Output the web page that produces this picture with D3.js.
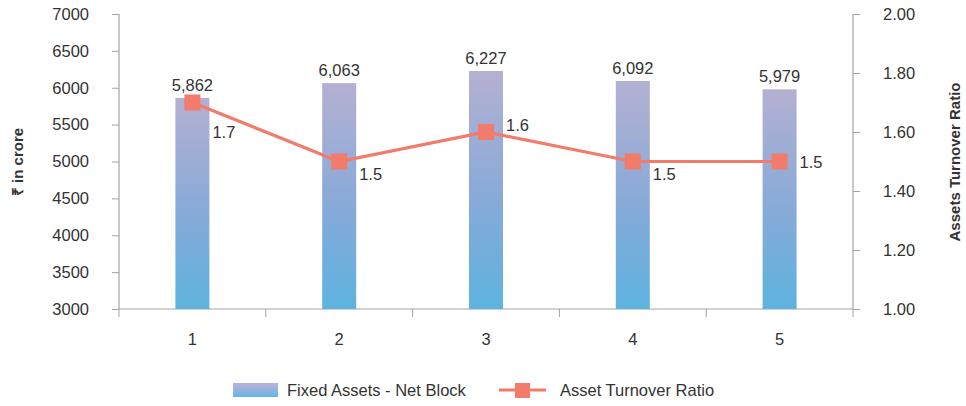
<!DOCTYPE html>
<html>
<head>
<meta charset="utf-8">
<script src="https://cdn.jsdelivr.net/npm/d3@7"></script>
<style>
	body { margin: 0; background: #fff; }
	svg text { font-family: "Liberation Sans", Arial, sans-serif; fill: #333; }
</style>
</head>
<body>
<svg id="chart" width="966" height="406"></svg>
<script>
const categories = ["1", "2", "3", "4", "5"];
const netBlock = [5862, 6063, 6227, 6092, 5979];
const turnover = [1.7, 1.5, 1.6, 1.5, 1.5];
const leftTicks = [3000, 3500, 4000, 4500, 5000, 5500, 6000, 6500, 7000];
const rightTicks = [1.00, 1.20, 1.40, 1.60, 1.80, 2.00];
// vertical nudge of each ratio label, as placed in the original
const ratioLabelDy = [35, 18, -1, 18, 6];

const svg = d3.select("#chart");
const plotLeft = 119, plotRight = 853, plotTop = 14, plotBottom = 309;
const axisColor = "#a3a3a3";
const lineColor = "#f27b6c";
const fontSize = "16.5px";

const x = d3.scaleBand().domain(categories).range([plotLeft, plotRight]);
const yL = d3.scaleLinear().domain([3000, 7000]).range([plotBottom, plotTop]);
const yR = d3.scaleLinear().domain([1, 2]).range([plotBottom, plotTop]);
const cx = i => x(categories[i]) + x.bandwidth() / 2;

// gradient for bars
const defs = svg.append("defs");
const grad = defs.append("linearGradient")
	.attr("id", "barGrad")
	.attr("x1", 0).attr("y1", 0).attr("x2", 0).attr("y2", 1);
grad.append("stop").attr("offset", "0%").attr("stop-color", "#b4b0d2");
grad.append("stop").attr("offset", "55%").attr("stop-color", "#87aad8");
grad.append("stop").attr("offset", "100%").attr("stop-color", "#5db3df");

const legGrad = defs.append("linearGradient")
	.attr("id", "legGrad")
	.attr("x1", 0).attr("y1", 0).attr("x2", 0).attr("y2", 1);
legGrad.append("stop").attr("offset", "0%").attr("stop-color", "#c3b0d8");
legGrad.append("stop").attr("offset", "100%").attr("stop-color", "#62b8e8");

// left axis
const axL = svg.append("g")
	.attr("transform", `translate(${plotLeft},0)`)
	.call(d3.axisLeft(yL).tickValues(leftTicks).tickSize(7).tickPadding(23).tickFormat(d3.format("d")));
// right axis
const axR = svg.append("g")
	.attr("transform", `translate(${plotRight},0)`)
	.call(d3.axisRight(yR).tickValues(rightTicks).tickSize(7).tickPadding(23).tickFormat(d3.format(".2f")));
// bottom axis
const axB = svg.append("g")
	.attr("transform", `translate(0,${plotBottom})`)
	.call(d3.axisBottom(x).tickSize(0).tickPadding(24));
axB.selectAll(".tick")
	.append("line")
	.attr("x1", x.bandwidth() / 2).attr("x2", x.bandwidth() / 2)
	.attr("y1", 0).attr("y2", 8)
	.attr("stroke", axisColor);
axB.append("line")
	.attr("x1", plotLeft).attr("x2", plotLeft).attr("y1", 0).attr("y2", 8)
	.attr("stroke", axisColor);

[axL, axR, axB].forEach(g => {
	g.select(".domain").attr("stroke", axisColor).attr("stroke-width", 1.2);
	g.selectAll(".tick line").attr("stroke", axisColor);
	g.selectAll(".tick text").style("font-size", fontSize).attr("fill", "#333");
});
axL.select(".domain").attr("d", `M0,${plotTop}V${plotBottom}`);
axR.select(".domain").attr("d", `M0,${plotTop}V${plotBottom}`);
axB.select(".domain").attr("d", `M${plotLeft},0H${plotRight}`);

// bars
const barW = 34;
svg.append("g").selectAll("rect")
	.data(netBlock)
	.join("rect")
	.attr("x", (d, i) => cx(i) - barW / 2)
	.attr("y", d => yL(d))
	.attr("width", barW)
	.attr("height", d => plotBottom - yL(d))
	.attr("fill", "url(#barGrad)");

svg.append("g").selectAll("text")
	.data(netBlock)
	.join("text")
	.attr("x", (d, i) => cx(i))
	.attr("y", d => yL(d) - 7)
	.attr("text-anchor", "middle")
	.style("font-size", fontSize)
	.text(d => d3.format(",")(d));

// line
const line = d3.line()
	.x((d, i) => cx(i))
	.y(d => yR(d));
svg.append("path")
	.datum(turnover)
	.attr("d", line)
	.attr("fill", "none")
	.attr("stroke", lineColor)
	.attr("stroke-width", 3.2);

const mk = 16;
svg.append("g").selectAll("rect")
	.data(turnover)
	.join("rect")
	.attr("x", (d, i) => cx(i) - mk / 2)
	.attr("y", d => yR(d) - mk / 2)
	.attr("width", mk)
	.attr("height", mk)
	.attr("fill", lineColor);

svg.append("g").selectAll("text")
	.data(turnover)
	.join("text")
	.attr("x", (d, i) => cx(i) + 20)
	.attr("y", (d, i) => yR(d) + ratioLabelDy[i])
	.style("font-size", fontSize)
	.text(d => d);

// axis titles
svg.append("text")
	.attr("transform", `translate(23,162) rotate(-90)`)
	.attr("text-anchor", "middle")
	.style("font-size", "15px")
	.style("font-weight", "bold")
	.text("₹ in crore");
svg.append("text")
	.attr("transform", `translate(960,162) rotate(-90)`)
	.attr("text-anchor", "middle")
	.style("font-size", "15px")
	.style("font-weight", "bold")
	.text("Assets Turnover Ratio");

// legend
const leg = svg.append("g");
leg.append("rect")
	.attr("x", 233).attr("y", 383).attr("width", 45).attr("height", 14)
	.attr("fill", "url(#legGrad)");
leg.append("text")
	.attr("x", 287).attr("y", 396)
	.style("font-size", fontSize)
	.text("Fixed Assets - Net Block");
leg.append("line")
	.attr("x1", 499).attr("x2", 546).attr("y1", 390).attr("y2", 390)
	.attr("stroke", lineColor).attr("stroke-width", 3.2);
leg.append("rect")
	.attr("x", 515).attr("y", 383).attr("width", 15).attr("height", 15)
	.attr("fill", lineColor);
leg.append("text")
	.attr("x", 560).attr("y", 396)
	.style("font-size", fontSize)
	.text("Asset Turnover Ratio");
</script>
</body>
</html>
